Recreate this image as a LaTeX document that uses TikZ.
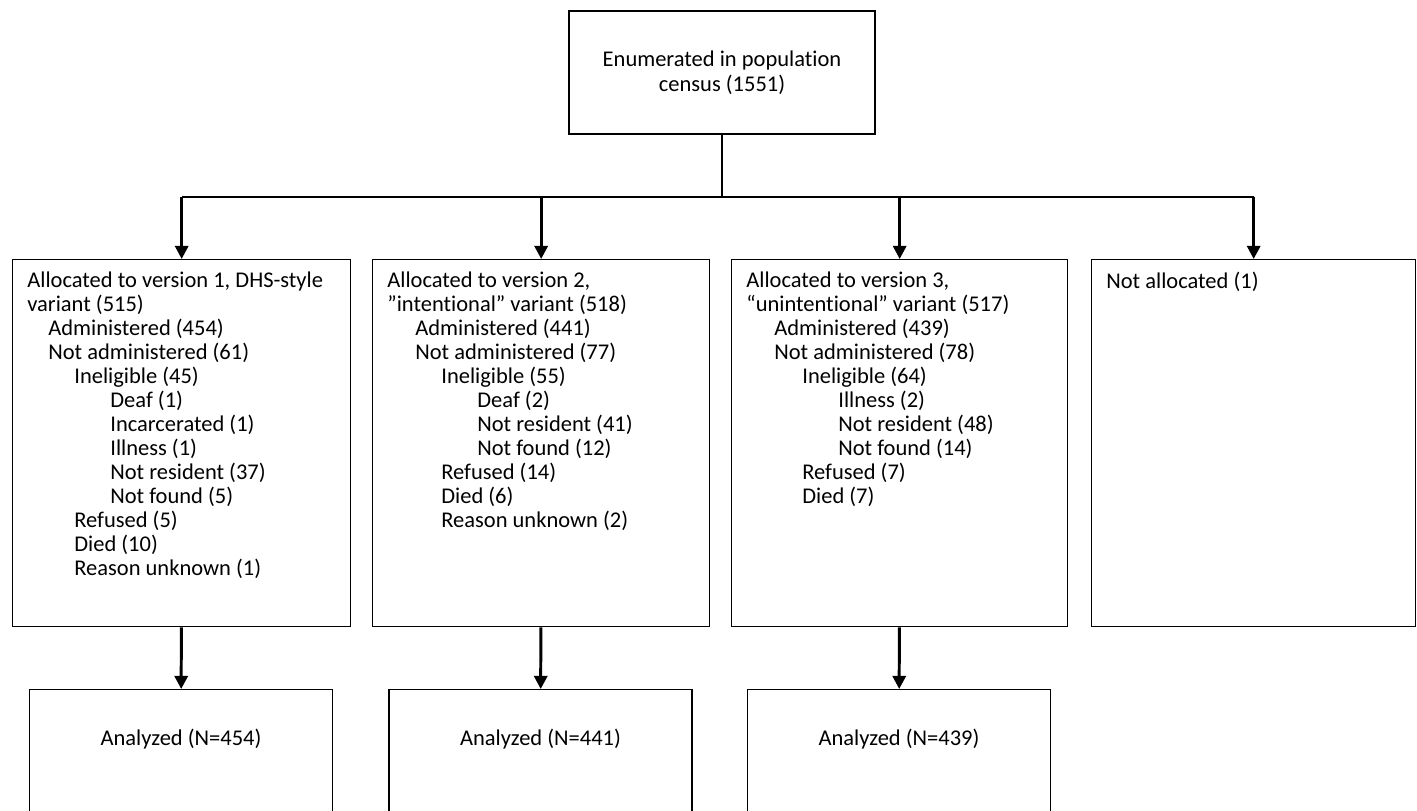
\documentclass[tikz,border=0pt]{standalone}
\usepackage{fontspec}
\setmainfont{Carlito}[Ligatures=NoCommon]
\usetikzlibrary{arrows.meta}

\newcommand{\ind}[1]{\hspace*{#1}}

\begin{document}
\begin{tikzpicture}[x=0.02cm,y=-0.02cm]

	\useasboundingbox (0,0) rectangle (1417,811);
	\clip (0,0) rectangle (1417,811);

	\tikzstyle{edge} = [draw,-,line width=0.8pt]
	\tikzstyle{arrow} = [draw,line width=1.7pt,-{Triangle[width=7.5pt,length=7.5pt]}]
	\tikzset{box/.style = {shape=rectangle,draw,line width=0.8pt,font=\fontsize{12.8}{14.2}\selectfont}}
	\tikzset{list/.style = {anchor=north west,align=left,inner sep=0pt,font=\fontsize{12.8}{13.66}\selectfont}}

	\node[box,minimum width=6.12cm,minimum height=2.46cm,align=center] (census) at (722,72.5) {Enumerated in population\\census (1551)};

	% allocation boxes
	\tikzset{box/.append style = {anchor=north west,minimum height=7.34cm}}
	\node[box,minimum width=6.76cm] (v1) at (12,259) {};
	\node[box,minimum width=6.74cm] (v2) at (372,259) {};
	\node[box,minimum width=6.72cm] (v3) at (731,259) {};
	\node[box,minimum width=6.48cm] (v4) at (1091,259) {};

	\node[list] (t1) at ([shift={(15,13)}]v1.north west) {Allocated to version 1, DHS-style\\variant (515)\\
		\ind{0.42cm}Administered (454)\\\ind{0.42cm}Not administered (61)\\
		\ind{0.94cm}Ineligible (45)\\
		\ind{1.66cm}Deaf (1)\\\ind{1.66cm}Incarcerated (1)\\\ind{1.66cm}Illness (1)\\
		\ind{1.66cm}Not resident (37)\\\ind{1.66cm}Not found (5)\\
		\ind{0.94cm}Refused (5)\\\ind{0.94cm}Died (10)\\\ind{0.94cm}Reason unknown (1)};
	\node[list] (t2) at ([shift={(15,13)}]v2.north west) {Allocated to version 2,\\”intentional” variant (518)\\
		\ind{0.56cm}Administered (441)\\\ind{0.56cm}Not administered (77)\\
		\ind{1.08cm}Ineligible (55)\\
		\ind{1.8cm}Deaf (2)\\\ind{1.8cm}Not resident (41)\\\ind{1.8cm}Not found (12)\\
		\ind{1.08cm}Refused (14)\\\ind{1.08cm}Died (6)\\\ind{1.08cm}Reason unknown (2)};
	\node[list] (t3) at ([shift={(15,13)}]v3.north west) {Allocated to version 3,\\“unintentional” variant (517)\\
		\ind{0.56cm}Administered (439)\\\ind{0.56cm}Not administered (78)\\
		\ind{1.12cm}Ineligible (64)\\
		\ind{1.84cm}Illness (2)\\\ind{1.84cm}Not resident (48)\\\ind{1.84cm}Not found (14)\\
		\ind{1.12cm}Refused (7)\\\ind{1.12cm}Died (7)};
	\node[list] (t4) at ([shift={(15,13)}]v4.north west) {Not allocated (1)};

	% analyzed boxes
	\tikzset{box/.style = {shape=rectangle,draw,line width=0.8pt,anchor=north,minimum width=6.06cm,inner sep=0pt,text height=1.12cm,text depth=3cm,font=\fontsize{12.8}{14.2}\selectfont}}
	\node[box] (a1) at (181,689) {Analyzed (N=454)};
	\node[box] (a2) at (540.5,689) {Analyzed (N=441)};
	\node[box] (a3) at (899,689) {Analyzed (N=439)};

	\coordinate (split) at (722,197);
	\coordinate (b1) at (v1.north |- split);
	\coordinate (b2) at (v2.north |- split);
	\coordinate (b3) at (v3.north |- split);
	\coordinate (b4) at (v4.north |- split);

	\draw[edge] (census) to (split);
	\draw[edge] (b1) to (b4);
	\draw[arrow] (b1) to (v1);
	\draw[arrow] (b2) to (v2);
	\draw[arrow] (b3) to (v3);
	\draw[arrow] (b4) to (v4);
	\draw[arrow] (v1) to (a1);
	\draw[arrow] (v2) to (a2);
	\draw[arrow] (v3) to (a3);
\end{tikzpicture}
\end{document}
